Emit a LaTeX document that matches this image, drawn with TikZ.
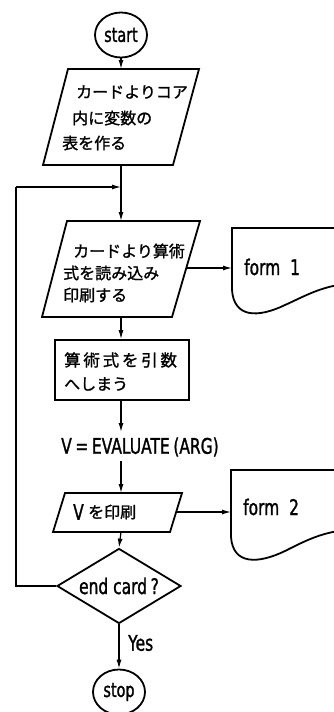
\documentclass[tikz,border=0pt]{standalone}
\usepackage{fontspec}
\newfontfamily\jp[FakeBold=1.2]{Noto Sans CJK JP}
\newfontfamily\lat[FakeStretch=0.72,FakeBold=1.2]{DejaVu Sans}
\usetikzlibrary{arrows.meta,shapes.geometric}
\begin{document}
\begin{tikzpicture}[x=1pt,y=-1pt,
  outl/.style={line width=1.8pt, line join=miter},
  wire/.style={line width=1.2pt},
  conn/.style={line width=1.2pt, -{Latex[length=9pt,width=5pt]}},
  jt/.style={font=\jp\fontsize{16}{18}\selectfont, inner sep=0pt, anchor=west},
  lt/.style={font=\lat\fontsize{21.5}{24}\selectfont, inner sep=0pt},
  term/.style={ellipse, draw, line width=1.8pt, minimum width=52pt, minimum height=45pt, inner sep=0pt, font=\lat\fontsize{20}{22}\selectfont}]
\useasboundingbox (0,0) rectangle (334,712);
\fill[white] (0,0) rectangle (334,712);

% start
\node[term] (start) at (121,35) {start};

% parallelogram 1
\draw[outl] (68,69) -- (199,69) -- (173,165) -- (43,165) -- cycle;
\coordinate (p1top) at (121,69);
\coordinate (p1bot) at (121,165);
\node[jt] (p1a) at (76,92) {カードよりコア};
\node[jt] (p1b) at (72,118) {内に変数の};
\node[jt] (p1c) at (62,143) {表を作る};

% parallelogram 2
\draw[outl] (67,221) -- (200,221) -- (172,317) -- (42,317) -- cycle;
\coordinate (p2top) at (121,221);
\coordinate (p2bot) at (121,317);
\coordinate (p2r) at (186,268);
\node[jt] (p2a) at (73,251) {カードより算術};
\node[jt] (p2b) at (63,273) {式を読み込み};
\node[jt] (p2c) at (63,295) {印刷する};

% form 1
\draw[outl] (345,228) -- (232,228) -- (232,290)
  .. controls (234,318) and (258,318) .. (285,305)
  .. controls (305,296) and (320,287) .. (345,284);
\coordinate (f1w) at (232,268);
\node[lt, anchor=west] (f1) at (244,267) {form\ \ 1};

% rectangle
\node[draw, line width=1.8pt, minimum width=134pt, minimum height=60pt, inner sep=0pt] (rect) at (122,370) {};
\node[jt, font=\jp\fontsize{16.5}{18}\selectfont] (ra) at (64,360) {算\,術\,式\,を\,引\,数};
\node[jt] (rb) at (64,384) {へしまう};

% evaluate
\coordinate (evtop) at (121,432);
\node[lt] (ev) at (140,447) {V\,=\,EVALUATE\,(ARG)};
\coordinate (evbot) at (121,461);

% parallelogram 3
\draw[outl] (65,493) -- (182,493) -- (170,532) -- (53,532) -- cycle;
\coordinate (p3top) at (121,493);
\coordinate (p3bot) at (121,532);
\coordinate (p3r) at (176,512);
\node[lt, anchor=west] (p3v) at (73,512) {V};
\node[jt] (p3t) at (88,512) {を印刷};

% form 2
\draw[outl] (345,470) -- (231,470) -- (231,537)
  .. controls (233,565) and (258,564) .. (285,551)
  .. controls (305,541) and (320,533) .. (345,530);
\coordinate (f2w) at (231,512);
\node[lt, anchor=west] (f2) at (243,507) {form\ \ 2};

% decision
\node[diamond, draw, line width=1.8pt, minimum width=124pt, minimum height=75pt, inner sep=0pt, aspect=1.65] (dec) at (119,586) {};
\node[lt] (dect) at (119,586) {end card\,?};

% stop
\node[term] (stop) at (119,692) {stop};
\node[lt, anchor=west] (yes) at (128,643) {Yes};

% loop
\coordinate (lb) at (16,586);
\coordinate (lt) at (16,187);
\coordinate (j) at (121,187);

% connectors
\draw[conn] (start) -- (p1top);
\draw[conn] (p1bot) -- (p2top);
\draw[wire] (dec.west) -- (lb) -- (lt);
\draw[conn] (lt) -- (j);
\draw[conn] (p2r) -- (f1w);
\draw[conn] (p2bot) -- (rect.north -| p2bot);
\draw[conn] (rect.south -| p2bot) -- (evtop);
\draw[conn] (evbot) -- (p3top);
\draw[conn] (p3r) -- (f2w);
\draw[conn] (p3bot) -- (dec.north);
\draw[conn] (dec.south) -- (stop.north);
\end{tikzpicture}
\end{document}
